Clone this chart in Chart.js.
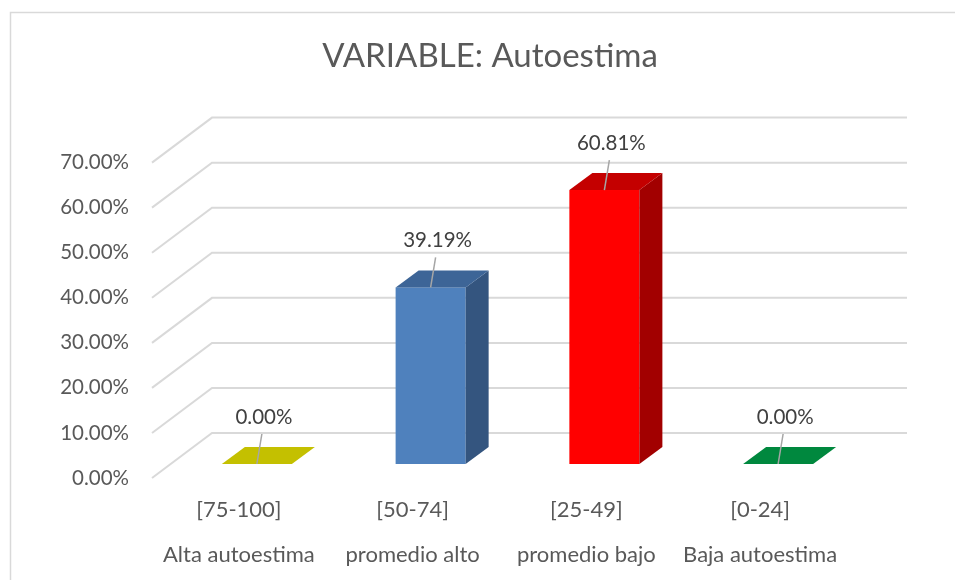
<!DOCTYPE html>
<html lang="es">
<head>
<meta charset="utf-8">
<title>VARIABLE: Autoestima</title>
<script src="https://cdn.jsdelivr.net/npm/chart.js@4.4.1/dist/chart.umd.min.js"></script>
<style>
  html, body { margin: 0; padding: 0; background: #fff; }
  #wrap { width: 955px; height: 580px; }
</style>
</head>
<body>
<div id="wrap"><canvas id="chart" width="955" height="580"></canvas></div>
<script>
// rango de puntaje y nivel (etiqueta de dos líneas por barra)
const rangos = ["[75-100]", "[50-74]", "[25-49]", "[0-24]"];
const niveles = ["Alta autoestima", "promedio alto", "promedio bajo", "Baja autoestima"];
const porcentajes = [0.00, 39.19, 60.81, 0.00];
const ticksY = [0, 10, 20, 30, 40, 50, 60, 70];

// colores de cada barra: frente, lado, tapa
const FRENTE = ["#c4c000", "#4f81bd", "#ff0000", "#00883e"];
const LADO   = ["#9a9700", "#34557f", "#a20000", "#006a30"];
const TAPA   = ["#c4c000", "#3d6597", "#c40000", "#00883e"];

const FONT = "Lato, 'Open Sans', sans-serif";
const TXT = "#595959", GRID = "#d9d9d9";
// profundidad del "3D": fondo de la caja y desplazamiento/grosor de las barras
const DX = 60, DY = 45, OX = 18, OY = -14, BX = 23, BY = 17;

function poly(ctx, pts, color) {
  ctx.beginPath();
  pts.forEach(([x, y], i) => (i ? ctx.lineTo(x, y) : ctx.moveTo(x, y)));
  ctx.closePath();
  ctx.fillStyle = color;
  ctx.fill();
}

const caja3d = {
  id: "caja3d",
  afterLayout(chart) {
    // el título de Excel queda centrado en el marco, no en el área del gráfico
    chart.titleBlock.left = 25;
    chart.titleBlock.right = chart.width;
  },
  beforeDraw(chart) {
    const { ctx, width, height } = chart;
    ctx.save();
    ctx.fillStyle = "#fff";
    ctx.fillRect(0, 0, width, height);
    ctx.strokeStyle = GRID; ctx.lineWidth = 1.5;
    ctx.beginPath(); ctx.moveTo(10.5, height); ctx.lineTo(10.5, 12.5); ctx.lineTo(width, 12.5); ctx.stroke();
    ctx.restore();
  },
  beforeDatasetsDraw(chart) {
    const { ctx, chartArea: a, scales: { y } } = chart;
    ctx.save();
    ctx.strokeStyle = GRID; ctx.lineWidth = 2;
    y.ticks.forEach((t) => {
      const py = y.getPixelForValue(t.value);
      ctx.beginPath();
      ctx.moveTo(a.left, py);
      ctx.lineTo(a.left + DX, py - DY);
      ctx.lineTo(a.right + DX, py - DY);
      ctx.stroke();
    });
    ctx.restore();
  },
  afterDatasetsDraw(chart) {
    const { ctx } = chart;
    const meta = chart.getDatasetMeta(0);
    ctx.save();
    meta.data.forEach((bar, i) => {
      const { x, y, base, width } = bar.getProps(["x", "y", "base", "width"], true);
      const l = x - width / 2 + OX, r = x + width / 2 + OX, t = y + OY, b = base + OY, cx = x + OX;
      if (b - t > 0.5) {
        ctx.fillStyle = FRENTE[i];
        ctx.fillRect(l, t, r - l, b - t);
        poly(ctx, [[r, b], [r + BX, b - BY], [r + BX, t - BY], [r, t]], LADO[i]);
      }
      poly(ctx, [[l, t], [r, t], [r + BX, t - BY], [l + BX, t - BY]], TAPA[i]);
      // línea guía + etiqueta del valor
      ctx.strokeStyle = "#a6a6a6"; ctx.lineWidth = 1.5;
      ctx.beginPath(); ctx.moveTo(cx, t); ctx.lineTo(cx + 5, t - 30); ctx.stroke();
      ctx.fillStyle = "#404040";
      ctx.font = `20.5px ${FONT}`;
      ctx.textAlign = "center"; ctx.textBaseline = "middle";
      ctx.fillText(porcentajes[i].toFixed(2) + "%", cx + 7, t - 47);
    });
    ctx.restore();
  },
};

new Chart(document.getElementById("chart"), {
  type: "bar",
  data: {
    labels: rangos.map((r, i) => [r, niveles[i]]),
    datasets: [{
      data: porcentajes,
      backgroundColor: "rgba(0,0,0,0)",
      categoryPercentage: 1,
      barPercentage: 0.403,
    }],
  },
  options: {
    responsive: false,
    animation: false,
    devicePixelRatio: 1,
    layout: { padding: { left: 52, right: 108, top: 0, bottom: 4 } },
    plugins: {
      legend: { display: false },
      tooltip: { enabled: false },
      title: {
        display: true,
        text: "VARIABLE: Autoestima",
        color: TXT,
        font: { family: FONT, size: 33, weight: "normal" },
        padding: { top: 37, bottom: 86 },
      },
    },
    scales: {
      x: {
        grid: { display: false, drawTicks: false },
        border: { display: false },
        afterFit: (s) => { s.height = 98; },
        ticks: { color: TXT, padding: 9, font: { family: FONT, size: 22, lineHeight: 2.07 } },
      },
      y: {
        min: 0, max: 70,
        grid: { display: false, drawTicks: false },
        border: { display: false },
        afterBuildTicks: (s) => { s.ticks = ticksY.map((v) => ({ value: v })); },
        afterFit: (s) => { s.width = 100; },
        ticks: {
          color: TXT, padding: 23,
          font: { family: FONT, size: 20.5 },
          callback: (v) => Number(v).toFixed(2) + "%",
        },
      },
    },
  },
  plugins: [caja3d],
});
</script>
</body>
</html>
